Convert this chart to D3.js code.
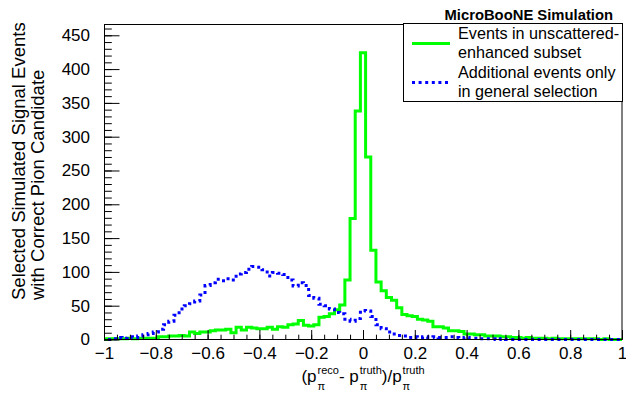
<!DOCTYPE html>
<html>
<head>
<meta charset="utf-8">
<script src="https://cdn.jsdelivr.net/npm/d3@7"></script>
<style>
  body { margin: 0; background: #fff; }
  svg { display: block; }
  text { font-family: "Liberation Sans", Arial, Helvetica, sans-serif; fill: #000; }
</style>
</head>
<body>
<svg id="chart" width="626" height="394"></svg>
<script>
// Histogram binning: 101 bins of width 0.02, centred on multiples of 0.02
const binLow = -1.01;
const binWidth = 0.02;

// Events in unscattered-enhanced subset (bins from -1.00 to 1.00)
const unscattered = [
  0, 1, 1, 1, 1, 2, 1, 2, 2, 2,
  2, 4, 4, 5, 5, 6, 5, 11, 9, 11,
  11, 13, 14, 14, 15, 10, 18, 14, 18, 17,
  16, 16, 18, 15, 19, 18, 22, 23, 28, 21,
  20, 22, 33, 34, 38, 44, 51, 88, 179, 338,
  424, 270, 132, 85, 72, 62, 58, 47, 37, 35,
  34, 30, 29, 27, 19, 19, 17, 13, 13, 12,
  8, 8, 7, 7, 5, 5, 5, 4, 4, 3,
  3, 2, 3, 2, 2, 2, 1, 2, 1, 1,
  1, 1, 1, 1, 1, 1, 0, 1, 0, 0,
  0
];

// Additional events only in general selection
const additional = [
  0, 0, 1, 3, 2, 4, 3, 5, 7, 9,
  11, 15, 22, 27, 36, 45, 50, 53, 57, 66,
  80, 84, 89, 87, 90, 88, 97, 99, 104, 108,
  107, 103, 94, 99, 98, 96, 88, 79, 84, 80,
  65, 61, 52, 50, 45, 40, 38, 30, 27, 31,
  43, 42, 34, 22, 16, 11, 8, 6, 5, 3,
  4, 3, 4, 3, 4, 3, 3, 4, 3, 2,
  3, 2, 2, 1, 1, 1, 0, 1, 0, 0,
  0, 0, 0, 0, 0, 0, 0, 0, 0, 0,
  0, 0, 0, 0, 0, 0, 0, 0, 0, 0,
  0
];

const xTickValues = [-1, -0.8, -0.6, -0.4, -0.2, 0, 0.2, 0.4, 0.6, 0.8, 1];
const xTickLabels = ["\u22121", "\u22120.8", "\u22120.6", "\u22120.4", "\u22120.2", "0", "0.2", "0.4", "0.6", "0.8", "1"];
const yTickValues = [0, 50, 100, 150, 200, 250, 300, 350, 400, 450];
const yTickLabels = ["0", "50", "100", "150", "200", "250", "300", "350", "400", "450"];

const seriesNames = [
  ["Events in unscattered-", "enhanced subset"],
  ["Additional events only", "in general selection"]
];
const seriesColors = ["#00ff00", "#0000ff"];

// ---- layout ----
const frame = { left: 104, right: 622, top: 24, bottom: 339.5 };
const x = d3.scaleLinear().domain([-1, 1]).range([frame.left, frame.right]);
const y = d3.scaleLinear().domain([0, 466.7]).range([frame.bottom, frame.top]);

const svg = d3.select("#chart");

svg.append("defs").append("clipPath").attr("id", "frameClip")
  .append("rect")
  .attr("x", frame.left).attr("y", frame.top - 2)
  .attr("width", frame.right - frame.left).attr("height", frame.bottom - frame.top + 4);

// step outline of a histogram, ROOT "HIST" style
function outline(counts) {
  const pts = [[binLow, 0]];
  counts.forEach((v, i) => {
    const lo = binLow + i * binWidth;
    pts.push([lo, v], [lo + binWidth, v]);
  });
  pts.push([binLow + counts.length * binWidth, 0]);
  return pts;
}
const line = d3.line().x(d => x(d[0])).y(d => y(d[1]));

const plot = svg.append("g").attr("clip-path", "url(#frameClip)");
plot.append("path")
  .attr("d", line(outline(unscattered)))
  .attr("fill", "none").attr("stroke", seriesColors[0])
  .attr("stroke-width", 3).attr("stroke-linejoin", "miter");
plot.append("path")
  .attr("d", line(outline(additional)))
  .attr("fill", "none").attr("stroke", seriesColors[1])
  .attr("stroke-width", 3).attr("stroke-dasharray", "3,3.6");

// ---- axes: ticks point inwards, ROOT style ----
const xMinor = d3.range(-1, 1.0001, 0.05).map(v => +v.toFixed(2));
const yMinor = d3.range(0, 461, 10);

const xAxisMinor = svg.append("g").attr("transform", `translate(0,${frame.bottom})`)
  .call(d3.axisBottom(x).tickValues(xMinor).tickSizeInner(-4.8).tickSizeOuter(0).tickFormat(""));
const xAxis = svg.append("g").attr("transform", `translate(0,${frame.bottom})`)
  .call(d3.axisBottom(x).tickValues(xTickValues).tickSizeInner(-9.5).tickSizeOuter(0)
    .tickPadding(7).tickFormat((d, i) => xTickLabels[i]));
const yAxisMinor = svg.append("g").attr("transform", `translate(${frame.left},0)`)
  .call(d3.axisLeft(y).tickValues(yMinor).tickSizeInner(-7.8).tickSizeOuter(0).tickFormat(""));
const yAxis = svg.append("g").attr("transform", `translate(${frame.left},0)`)
  .call(d3.axisLeft(y).tickValues(yTickValues).tickSizeInner(-15.5).tickSizeOuter(0)
    .tickPadding(14).tickFormat((d, i) => yTickLabels[i]));

[xAxisMinor, xAxis, yAxisMinor, yAxis].forEach(g => {
  g.select(".domain").remove();
  g.selectAll(".tick line").attr("stroke", "#000").attr("stroke-width", 1);
  g.selectAll("text").attr("font-family", null).attr("font-size", 17).attr("fill", "#000");
  g.attr("font-family", null).attr("font-size", null);
});
xAxis.selectAll(".tick text").attr("dy", "0.71em");

// frame
svg.append("rect")
  .attr("x", frame.left + 0.5).attr("y", frame.top + 0.5)
  .attr("width", frame.right - frame.left - 0.5).attr("height", frame.bottom - frame.top - 0.5)
  .attr("fill", "none").attr("stroke", "#000").attr("stroke-width", 1);

// ---- axis titles ----
// y title: two lines, rotated, both starting from the same bottom point
const yTitle = [
  { text: "Selected Simulated Signal Events", cx: 25 },
  { text: "with Correct Pion Candidate", cx: 44 }
];
const yTitleStart = 300;
yTitle.forEach(t => {
  svg.append("text")
    .attr("transform", `translate(${t.cx},${yTitleStart}) rotate(-90)`)
    .attr("text-anchor", "start")
    .attr("font-size", 18.5)
    .text(t.text);
});

// x title with stacked sub/superscripts
const xTitleParts = [
  { base: "(p", sub: "\u03c0", sup: "reco" },
  { base: " - p", sub: "\u03c0", sup: "truth" },
  { base: ")/p", sub: "\u03c0", sup: "truth" }
];
const xt = svg.append("g");
let cursor = 0;
const baseY = 382, supY = 374, subY = 390;
xTitleParts.forEach(p => {
  const b = xt.append("text").attr("x", cursor).attr("y", baseY).attr("font-size", 17).text(p.base);
  cursor += b.node().getComputedTextLength() + 1;
  const s1 = xt.append("text").attr("x", cursor).attr("y", supY).attr("font-size", 11).text(p.sup);
  const s2 = xt.append("text").attr("x", cursor).attr("y", subY).attr("font-size", 11).text(p.sub);
  cursor += Math.max(s1.node().getComputedTextLength(), s2.node().getComputedTextLength());
});
xt.attr("transform", `translate(${(frame.left + frame.right) / 2 - cursor / 2},0)`);

// ---- label above legend ----
svg.append("text")
  .attr("x", 613).attr("y", 19.5)
  .attr("text-anchor", "end")
  .attr("font-size", 14.8).attr("font-weight", "bold")
  .text("MicroBooNE Simulation");

// ---- legend ----
const legend = svg.append("g");
legend.append("rect")
  .attr("x", 403.5).attr("y", 23.5).attr("width", 219).attr("height", 78)
  .attr("fill", "#fff").attr("stroke", "#000").attr("stroke-width", 1);
const entryY = [43.5, 82.5];
seriesNames.forEach((lines, i) => {
  legend.append("line")
    .attr("x1", 412).attr("x2", 450).attr("y1", entryY[i]).attr("y2", entryY[i])
    .attr("stroke", seriesColors[i]).attr("stroke-width", 3)
    .attr("stroke-dasharray", i === 1 ? "3,3.6" : null);
  lines.forEach((txt, j) => {
    legend.append("text")
      .attr("x", 458).attr("y", entryY[i] - 4.5 + j * 19)
      .attr("font-size", 16.2)
      .text(txt);
  });
});
</script>
</body>
</html>
